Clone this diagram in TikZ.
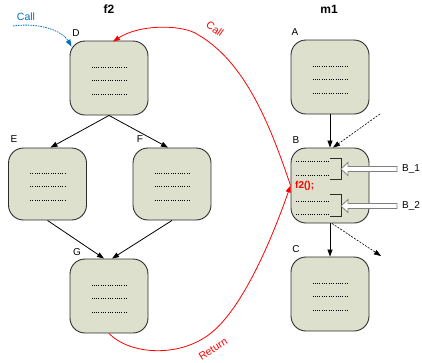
\documentclass[tikz,border=0pt]{standalone}
\usepackage{fontspec}
\setmainfont{Liberation Sans}
\usetikzlibrary{arrows.meta,calc}
\definecolor{boxfill}{RGB}{221,224,204}
\definecolor{boxline}{RGB}{45,45,45}
\definecolor{callblue}{RGB}{0,112,192}
\definecolor{hollowline}{RGB}{128,128,128}
\begin{document}
\begin{tikzpicture}[x=1pt,y=-1pt,
  box/.style={draw=boxline,line width=0.9pt,fill=boxfill,rounded corners=15pt,minimum width=78pt,minimum height=74pt,inner sep=0pt},
  lbl/.style={font=\fontsize{10}{12}\selectfont,inner sep=0pt},
  ttl/.style={font=\fontsize{12}{14}\selectfont\bfseries,inner sep=0pt},
  dotl/.style={line width=0.6pt,dash pattern=on 0.7pt off 1.6pt,black},
  flow/.style={line width=0.8pt,-{Triangle[length=7pt,width=5pt]}},
  dflow/.style={line width=0.6pt,dash pattern=on 2pt off 1.3pt,-{Triangle[length=7pt,width=5pt]}},
  redc/.style={red,line width=0.8pt,-{Triangle[length=7pt,width=5pt]}},
  bluec/.style={callblue,line width=0.8pt,dash pattern=on 1.5pt off 1pt,-{Triangle[length=7pt,width=5pt]}},
  brk/.style={boxline,line width=0.8pt},
  hollow/.style={draw=hollowline,fill=white,line width=0.8pt},
  redlbl/.style={red,font=\fontsize{10.5}{12}\selectfont,inner sep=0pt},
]
\useasboundingbox (0,0) rectangle (422,362);

% titles
\node[ttl] (tf2) at (109,9) {f2};
\node[ttl] (tm1) at (329,9) {m1};

% boxes
\node[box] (D) at (109,78) {};
\node[box] (A) at (330,77) {};
\node[box,minimum height=72pt] (E) at (47.5,184) {};
\node[box,minimum height=72pt] (F) at (172,184) {};
\node[box] (G) at (109,296) {};
\node[box,minimum height=75pt] (B) at (330,185.5) {};
\node[box] (C) at (330,294) {};

% box letters
\node[lbl] (lD) at (76,33) {D};
\node[lbl] (lA) at (295,32) {A};
\node[lbl] (lE) at (14,139) {E};
\node[lbl] (lF) at (140,139) {F};
\node[lbl] (lG) at (77,252) {G};
\node[lbl] (lB) at (296,140) {B};
\node[lbl] (lC) at (296,249) {C};

% dotted content
\foreach \n in {D,A,E,F,G,C}
  \foreach \dy in {-10.5,2.5,16}
    \draw[dotl] ($(\n.center)+(-17.5,\dy)$) -- ($(\n.center)+(17.5,\dy)$);

% B content
\foreach \yy in {161,175,201,214}
  \draw[dotl] (296,\yy) -- (330,\yy);
\draw[brk] (330,158) -- (341,158) -- (341,179) -- (330,179);
\draw[brk] (330,194) -- (341,194) -- (341,216) -- (330,216);
\node[red,font=\fontsize{10}{12}\selectfont\bfseries,inner sep=0pt,anchor=west] (f2call) at (295,186) {f2();};

% hollow arrows and labels
\node[lbl,anchor=west] (b1) at (402,169) {B\_1};
\node[lbl,anchor=west] (b2) at (402,206) {B\_2};
\foreach \yy in {169,206}
  \draw[hollow] (341,\yy) -- (348,\yy-6.5) -- (348,\yy-2.5) -- (397,\yy-2.5) -- (397,\yy+2.5) -- (348,\yy+2.5) -- (348,\yy+6.5) -- cycle;

% flow arrows f2
\draw[flow] (D.south) -- ($(E.north)+(3,0)$);
\draw[flow] (D.south) -- ($(F.north)+(-4,0)$);
\draw[flow] (E.south) -- ($(G.north)+(-5,0)$);
\draw[flow] (F.south) -- ($(G.north)+(3,0)$);

% flow arrows m1
\draw[flow] (A.south) -- (B.north);
\draw[flow] (B.south) -- (C.north);
\coordinate (inB) at (380,114);
\coordinate (outB) at (381,256);
\draw[dflow] (inB) -- ($(B.north)+(3,0)$);
\draw[dflow] ($(B.south)+(2,0)$) -- (outB);

% red call and return
\draw[redc] (B.west) .. controls (270,125) and (245,60) .. (195,33)
  .. controls (180,25) and (140,24) .. ($(D.north)+(4,1)$);
\draw[redc] (G.south) .. controls (130,355) and (180,358) .. (211,333)
  .. controls (240,310) and (268,250) .. (B.west);
\node[redlbl,rotate=-35] (callr) at (215,29) {Call};
\node[redlbl,rotate=32] (retr) at (213,349) {Return};

% blue call
\coordinate (bs) at (13,26);
\draw[bluec] (bs) .. controls (42,22) and (63,32) .. ($(D.north west)+(2,6)$);
\node[callblue,font=\fontsize{10.5}{12}\selectfont,inner sep=0pt] (callb) at (26,17) {Call};
\end{tikzpicture}
\end{document}
